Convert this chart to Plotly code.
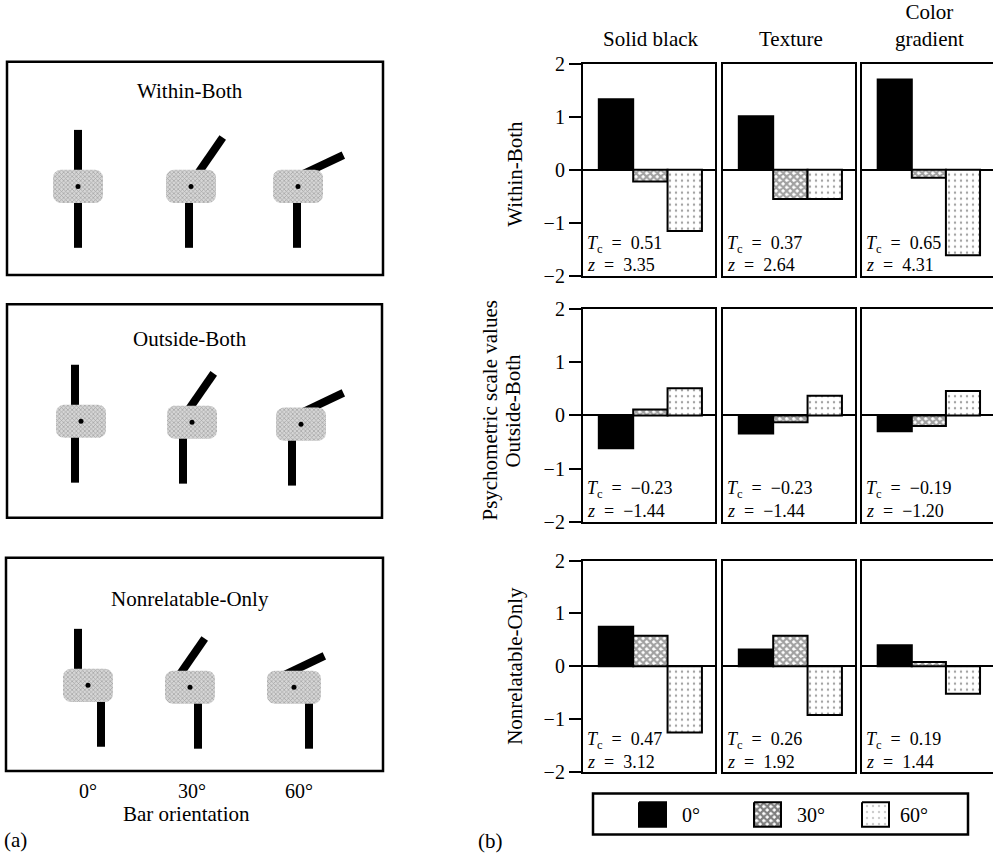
import numpy as np
import plotly.graph_objects as go

W, H = 993, 863
FONT = "Liberation Serif, Times New Roman, serif"

# ---------------- data ----------------
conditions = ["Within-Both", "Outside-Both", "Nonrelatable-Only"]
fill_types = ["Solid black", "Texture", "Color<br>gradient"]
orientation_labels = ["0°", "30°", "60°"]
orientations = [0, 30, 60]

# psychometric scale values: per fill type -> [0°, 30°, 60°]
within_both = [[1.33, -0.22, -1.15], [1.01, -0.55, -0.55], [1.70, -0.15, -1.61]]
outside_both = [[-0.62, 0.11, 0.51], [-0.34, -0.13, 0.37], [-0.30, -0.20, 0.46]]
nonrelatable_only = [[0.75, 0.58, -1.25], [0.32, 0.58, -0.92], [0.40, 0.08, -0.52]]

tc_within = [0.51, 0.37, 0.65]
z_within = [3.35, 2.64, 4.31]
tc_outside = [-0.23, -0.23, -0.19]
z_outside = [-1.44, -1.44, -1.20]
tc_nonrel = [0.47, 0.26, 0.19]
z_nonrel = [3.12, 1.92, 1.44]

y_tickvals = [-2, -1, 0, 1, 2]
y_ticktext = ["\u22122", "\u22121", "0", "1", "2"]

values = [within_both, outside_both, nonrelatable_only]
tcs = [tc_within, tc_outside, tc_nonrel]
zs = [z_within, z_outside, z_nonrel]

# ---------------- layout helpers ----------------
def fx(px):
    return px / W

def fy(py):
    return 1 - py / H

col_px = [(583, 715), (723, 855), (862, 993)]
row_px = [(54, 272), (306, 524), (564, 781)]

def fmt(v):
    s = f"{abs(v):.2f}"
    return ("\u2212" + s) if v < 0 else s

fig = go.Figure()
layout = dict(
    width=W, height=H, margin=dict(l=0, r=0, t=0, b=0),
    paper_bgcolor="white", plot_bgcolor="rgba(0,0,0,0)",
    showlegend=False, font=dict(family=FONT, color="black", size=20),
)
annotations = []
shapes = []

bar_colors = ["black", "white", "white"]
pat_shapes = ["", "x", "."]
pat_fg = ["black", "black", "#9a9a9a"]
pat_bg = ["black", "white", "white"]
pat_size = [8, 5, 6]
pat_sol = [0.5, 0.7, 0.12]

idx = 0
for r in range(3):
    for c in range(3):
        idx += 1
        sfx = "" if idx == 1 else str(idx)
        xa = "x" + sfx
        ya = "y" + sfx
        fig.add_trace(go.Bar(
            x=[0, 1, 2], y=values[r][c], width=1,
            xaxis=xa, yaxis=ya,
            marker=dict(color=bar_colors, line=dict(color="black", width=2),
                        pattern=dict(shape=pat_shapes, fgcolor=pat_fg, bgcolor=pat_bg,
                                     size=pat_size, solidity=pat_sol)),
            hoverinfo="skip",
        ))
        x0, x1 = col_px[c]
        y0, y1 = row_px[r]
        layout["xaxis" + sfx] = dict(
            domain=[fx(x0), fx(x1)], range=[-0.96, 2.88], anchor=ya,
            showline=True, mirror=True, linecolor="black", linewidth=2.2,
            showticklabels=False, ticks="", showgrid=False, zeroline=False,
            fixedrange=True,
        )
        layout["yaxis" + sfx] = dict(
            domain=[fy(y1), fy(y0)], range=[-2, 2], anchor=xa,
            showline=True, mirror=(c < 2), linecolor="black", linewidth=2.2,
            showgrid=False, zeroline=True, zerolinecolor="black", zerolinewidth=2,
            tickvals=y_tickvals, ticktext=y_ticktext,
            ticks="outside" if c == 0 else "", ticklen=12, tickwidth=2.2,
            tickcolor="black", showticklabels=(c == 0),
            tickfont=dict(family=FONT, size=20, color="black"),
            fixedrange=True,
        )
        annotations.append(dict(
            xref=f"{xa} domain", yref=ya, x=0.015, y=-1.40, xanchor="left", yanchor="middle",
            text=f"<i>T</i><sub>c</sub>\u2002=\u2002{fmt(tcs[r][c])}", showarrow=False,
            font=dict(family=FONT, size=18, color="black"),
        ))
        annotations.append(dict(
            xref=f"{xa} domain", yref=ya, x=0.015, y=-1.80, xanchor="left", yanchor="middle",
            text=f"<i>z</i>\u2002=\u2002{fmt(zs[r][c])}", showarrow=False,
            font=dict(family=FONT, size=18, color="black"),
        ))

# column titles
for c, t in enumerate(fill_types):
    annotations.append(dict(
        xref="paper", yref="paper", x=fx((col_px[c][0] + col_px[c][1]) / 2 + 2), y=fy(43),
        xanchor="center", yanchor="bottom", text=t, showarrow=False,
        font=dict(family=FONT, size=21), align="center",
    ))

# row labels (b)
row_label_x = [515, 513, 515]
row_label_y = [167, 410, 672]
for r, t in enumerate(conditions):
    annotations.append(dict(
        xref="paper", yref="paper", x=fx(row_label_x[r]), y=fy(row_label_y[r]),
        xanchor="center", yanchor="middle", text=t, textangle=-90, showarrow=False,
        font=dict(family=FONT, size=21),
    ))
annotations.append(dict(
    xref="paper", yref="paper", x=fx(490), y=fy(410), xanchor="center", yanchor="middle",
    text="Psychometric scale values", textangle=-90, showarrow=False,
    font=dict(family=FONT, size=21),
))

# ---------------- overlay axis in pixel units for panel (a) and legend ----------------
layout["xaxis10"] = dict(domain=[0, 1], range=[0, W], visible=False, fixedrange=True, anchor="y10")
layout["yaxis10"] = dict(domain=[0, 1], range=[H, 0], visible=False, fixedrange=True, anchor="x10")

# legend box
shapes.append(dict(type="rect", xref="x10", yref="y10", x0=593, x1=968, y0=803, y1=845,
                   line=dict(color="black", width=2.5), fillcolor="rgba(0,0,0,0)"))
leg_sq_x = [639, 754, 862]
leg_lab_x = [680, 795, 898]
for k in range(3):
    sx0, sx1 = leg_sq_x[k], leg_sq_x[k] + 27
    sy0, sy1 = 812, 837
    fp = None
    if pat_shapes[k]:
        fp = dict(shape=pat_shapes[k], fgcolor=pat_fg[k], bgcolor=pat_bg[k],
                  size=pat_size[k], solidity=pat_sol[k])
    fig.add_trace(go.Scatter(
        x=[sx0, sx1, sx1, sx0, sx0], y=[sy0, sy0, sy1, sy1, sy0],
        xaxis="x10", yaxis="y10", mode="lines", fill="toself",
        fillcolor=bar_colors[k], fillpattern=fp,
        line=dict(color="black", width=2), hoverinfo="skip",
    ))
    annotations.append(dict(
        xref="paper", yref="paper", x=fx(leg_lab_x[k]), y=fy(825), xanchor="left",
        yanchor="middle", text=orientation_labels[k], showarrow=False,
        font=dict(family=FONT, size=20),
    ))

# panel (a): stimulus boxes
box_px = [(7, 52, 383, 271), (7, 301, 382, 520), (6, 561, 383, 780)]
title_y = [82, 337, 603]
for r in range(3):
    bx0, by0, bx1, by1 = box_px[r]
    shapes.append(dict(type="rect", xref="x10", yref="y10", x0=bx0, x1=bx1, y0=by0, y1=by1,
                       line=dict(color="black", width=2.5), fillcolor="rgba(0,0,0,0)"))
    annotations.append(dict(
        xref="paper", yref="paper", x=fx(190), y=fy(title_y[r]), xanchor="center",
        yanchor="middle", text=conditions[r], showarrow=False, font=dict(family=FONT, size=21),
    ))

patch_cx = [[78, 191, 298], [81, 192, 301], [88, 190, 294]]
patch_cy = [[180, 180, 180], [421, 422, 424], [692, 694, 694]]
patch_w = [[50, 50, 50], [50, 50, 50], [50, 50, 54]]
patch_h = 34
up_off = [[0, 6, 4], [-6, -4, 1], [-10, -11, -11]]
low_off = [[0, -2, -1], [-6, -9, -9], [13, 8, 15]]
up_len = 46
low_len = 46
draw_extra = 4  # visual exaggeration of the drawn tilt


def rounded_rect(cx, cy, w, h, rad, n=8):
    xs, ys = [], []
    centers = [(cx + w / 2 - rad, cy - h / 2 + rad, -90),
               (cx + w / 2 - rad, cy + h / 2 - rad, 0),
               (cx - w / 2 + rad, cy + h / 2 - rad, 90),
               (cx - w / 2 + rad, cy - h / 2 + rad, 180)]
    for (ccx, ccy, a0) in centers:
        t = np.radians(np.linspace(a0, a0 + 90, n))
        xs += list(ccx + rad * np.cos(t))
        ys += list(ccy + rad * np.sin(t))
    xs.append(xs[0])
    ys.append(ys[0])
    return xs, ys


seg_x, seg_y = [], []
for r in range(3):
    for k in range(3):
        cx, cy = patch_cx[r][k], patch_cy[r][k]
        top = cy - patch_h / 2
        bot = cy + patch_h / 2
        a = np.radians(orientations[k] + (draw_extra if orientations[k] else 0))
        sx = cx + up_off[r][k]
        sy = top + 5
        seg_x += [sx, sx + up_len * np.sin(a), None]
        seg_y += [sy, sy - up_len * np.cos(a), None]
        lx = cx + low_off[r][k]
        seg_x += [lx, lx, None]
        seg_y += [bot - 3, bot + low_len, None]

fig.add_trace(go.Scatter(x=seg_x, y=seg_y, xaxis="x10", yaxis="y10", mode="lines",
                         line=dict(color="black", width=8), hoverinfo="skip"))

for r in range(3):
    for k in range(3):
        xs, ys = rounded_rect(patch_cx[r][k], patch_cy[r][k], patch_w[r][k], patch_h, 8)
        fig.add_trace(go.Scatter(
            x=xs, y=ys, xaxis="x10", yaxis="y10", mode="lines", fill="toself",
            fillcolor="#c8c8c8", line=dict(width=0, color="rgba(0,0,0,0)"),
            fillpattern=dict(shape="x", fgcolor="#6e6e6e", bgcolor="#d6d6d6", size=3, solidity=0.4),
            hoverinfo="skip",
        ))

fig.add_trace(go.Scatter(
    x=[patch_cx[r][k] for r in range(3) for k in range(3)],
    y=[patch_cy[r][k] for r in range(3) for k in range(3)],
    xaxis="x10", yaxis="y10", mode="markers",
    marker=dict(color="black", size=5), hoverinfo="skip",
))

# orientation labels under (a)
orient_x = [88, 192, 299]
for k in range(3):
    annotations.append(dict(
        xref="paper", yref="paper", x=fx(orient_x[k]), y=fy(800), xanchor="center",
        yanchor="middle", text=orientation_labels[k], showarrow=False,
        font=dict(family=FONT, size=20),
    ))
annotations.append(dict(
    xref="paper", yref="paper", x=fx(186), y=fy(824), xanchor="center", yanchor="middle",
    text="Bar orientation", showarrow=False, font=dict(family=FONT, size=21),
))
annotations.append(dict(
    xref="paper", yref="paper", x=fx(2), y=fy(851), xanchor="left", yanchor="middle",
    text="(a)", showarrow=False, font=dict(family=FONT, size=21),
))
annotations.append(dict(
    xref="paper", yref="paper", x=fx(476), y=fy(852), xanchor="left", yanchor="middle",
    text="(b)", showarrow=False, font=dict(family=FONT, size=21),
))

layout["annotations"] = annotations
layout["shapes"] = shapes
fig.update_layout(**layout)

fig.write_html("out.html", config={"displayModeBar": False},
               post_script="document.body.style.margin='0';document.body.style.overflow='hidden';")
